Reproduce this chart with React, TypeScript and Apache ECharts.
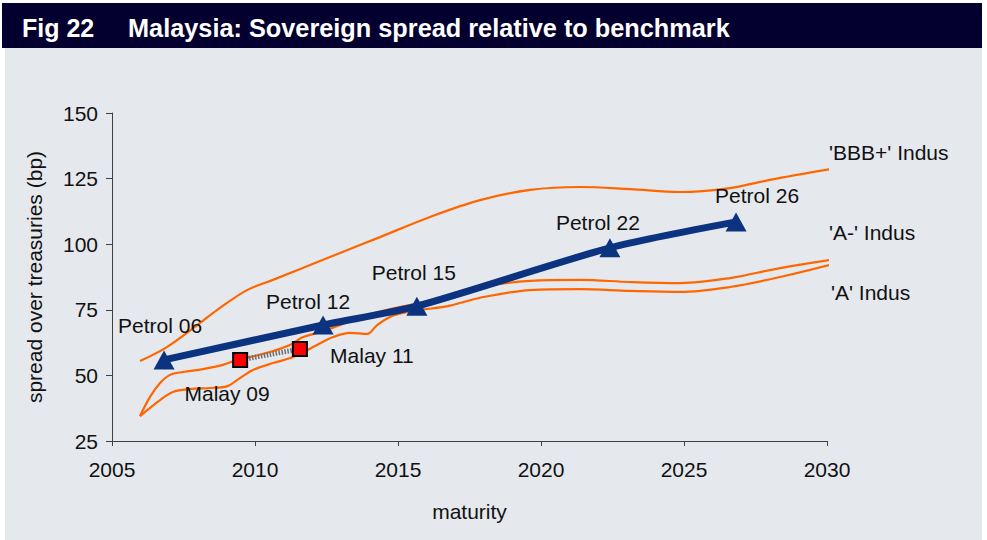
import React, { useEffect, useRef } from 'react';
import * as echarts from 'echarts';

// ---- data ----
const petrolNames = ['Petrol 06', 'Petrol 12', 'Petrol 15', 'Petrol 22', 'Petrol 26'];
const petrolPoints: [number, number][] = [
  [2006.82, 55.9],
  [2012.38, 69.2],
  [2015.66, 76.4],
  [2022.41, 98.6],
  [2026.82, 108.5],
];
const malayNames = ['Malay 09', 'Malay 11'];
const malayPoints: [number, number][] = [
  [2009.48, 55.9],
  [2011.57, 60.1],
];
const bbbPlusCurve: [number, number][] = [
  [2005.98, 55.5], [2006.92, 60.8], [2008.08, 70.0], [2008.67, 74.9], [2009.72, 82.5],
  [2010.63, 86.4], [2012.62, 95.1], [2014.37, 102.7], [2016.12, 110.4], [2017.87, 116.8],
  [2019.62, 120.7], [2021.36, 121.8], [2023.11, 121.0], [2024.86, 119.9], [2026.61, 121.4],
  [2028.0, 124.5], [2030.35, 129.0],
];
const aMinusCurve: [number, number][] = [
  [2005.98, 34.5], [2006.33, 41.8], [2006.68, 47.1], [2007.03, 50.2], [2007.48, 51.3],
  [2008.18, 52.4], [2008.88, 54.0], [2009.37, 55.9], [2009.83, 57.0], [2010.52, 58.9],
  [2011.22, 61.6], [2011.68, 64.6], [2012.17, 66.2], [2012.62, 67.8], [2013.68, 72.0],
  [2014.48, 74.6], [2016.22, 78.7], [2017.97, 83.7], [2019.62, 86.0], [2021.36, 86.4],
  [2023.11, 85.6], [2024.86, 85.2], [2026.61, 87.1], [2028.36, 90.9], [2030.35, 94.4],
];
const aCurve: [number, number][] = [
  [2005.98, 34.5], [2006.68, 40.6], [2007.13, 43.7], [2007.73, 44.8], [2008.43, 45.2],
  [2009.02, 45.8], [2009.37, 48.2], [2009.93, 52.1], [2010.63, 54.7], [2011.33, 57.0],
  [2012.17, 61.6], [2012.73, 64.6], [2013.32, 66.2], [2013.92, 65.8], [2014.27, 69.2],
  [2014.72, 72.3], [2015.17, 73.8], [2015.77, 74.9], [2016.82, 76.6], [2017.87, 79.6],
  [2019.62, 82.5], [2021.36, 82.9], [2023.11, 82.2], [2024.86, 81.8], [2026.61, 83.7],
  [2028.36, 87.5], [2030.35, 92.8],
];
const curveNames = ["'BBB+' Indus", "'A-' Indus", "'A' Indus"];

// ---- label placement (styles, not data) ----
const petrolLabelOffsets: [number, number][] = [[-4, -34], [-15, -24], [-3, -34], [-12, -25], [21, -26]];
const malayLabelOffsets: [number, number][] = [[-13, 34], [72, 7]];
const curveLabelOffsets: [number, number][] = [[0, -17], [0, -28], [2, 27]];

const FONT = "'Liberation Sans', Arial, sans-serif";
const TXT = '#111111';
const ORANGE = '#FF6600';
const NAVY = '#0B337F';

export default function App() {
  const ref = useRef<HTMLDivElement>(null);
  useEffect(() => {
    if (!ref.current) return;
    const chart = echarts.init(ref.current, undefined, { renderer: 'svg' });
    const curve = (name: string, data: [number, number][], i: number) => ({
      name,
      type: 'line',
      data,
      smooth: 0.35,
      clip: false,
      showSymbol: false,
      symbol: 'none',
      lineStyle: { color: ORANGE, width: 2.2 },
      z: 2,
      endLabel: {
        show: true,
        formatter: name,
        distance: 0,
        offset: curveLabelOffsets[i],
        color: TXT,
        fontSize: 21,
        fontFamily: FONT,
        align: 'left',
      },
    });
    chart.setOption({
      animation: false,
      backgroundColor: '#ffffff',
      textStyle: { fontFamily: FONT },
      graphic: [
        { type: 'rect', shape: { x: 5, y: 48, width: 977, height: 492 }, style: { fill: '#E5E8ED' }, z: -10 },
        { type: 'rect', shape: { x: 2, y: 3, width: 980, height: 45 }, style: { fill: '#03002F' }, z: -10 },
        {
          type: 'text', x: 22, y: 28,
          style: { text: 'Fig 22', fill: '#ffffff', font: `bold 25px ${FONT}`, verticalAlign: 'middle' },
        },
        {
          type: 'text', x: 128, y: 28,
          style: { text: 'Malaysia: Sovereign spread relative to benchmark', fill: '#ffffff', font: `bold 25.3px ${FONT}`, verticalAlign: 'middle' },
        },
      ],
      grid: { left: 112, right: 160, top: 113, bottom: 99, containLabel: false },
      xAxis: {
        type: 'value',
        min: 2005,
        max: 2030,
        interval: 5,
        name: 'maturity',
        nameLocation: 'middle',
        nameGap: 60,
        nameTextStyle: { color: TXT, fontSize: 21, fontFamily: FONT },
        axisLine: { show: true, lineStyle: { color: '#404040', width: 1 } },
        axisTick: { show: true, length: 5, lineStyle: { color: '#404040' } },
        axisLabel: { color: TXT, fontSize: 21, margin: 18, fontFamily: FONT, formatter: (v: number) => String(v) },
        splitLine: { show: false },
      },
      yAxis: {
        type: 'value',
        min: 25,
        max: 150,
        interval: 25,
        name: 'spread over treasuries (bp)',
        nameLocation: 'middle',
        nameGap: 67,
        nameTextStyle: { color: TXT, fontSize: 21, fontFamily: FONT },
        axisLine: { show: true, lineStyle: { color: '#404040', width: 1 } },
        axisTick: { show: true, length: 6, lineStyle: { color: '#404040' } },
        axisLabel: { color: TXT, fontSize: 21, margin: 14, fontFamily: FONT },
        splitLine: { show: false },
      },
      series: [
        curve(curveNames[0], bbbPlusCurve, 0),
        curve(curveNames[1], aMinusCurve, 1),
        curve(curveNames[2], aCurve, 2),
        {
          name: 'Malay',
          type: 'line',
          data: malayPoints.map((p, i) => ({
            value: p,
            name: malayNames[i],
            label: { offset: malayLabelOffsets[i] },
          })),
          symbol: 'rect',
          symbolSize: 14,
          itemStyle: { color: '#FF0000', borderColor: '#000000', borderWidth: 2 },
          lineStyle: { color: '#6e6e6e', width: 5, type: [1.5, 1.5] },
          label: {
            show: true,
            position: 'inside',
            formatter: (p: any) => p.name,
            color: TXT,
            fontSize: 21,
            fontFamily: FONT,
          },
          z: 4,
        },
        {
          name: 'Petrol',
          type: 'line',
          data: petrolPoints.map((p, i) => ({
            value: p,
            name: petrolNames[i],
            label: { offset: petrolLabelOffsets[i] },
          })),
          smooth: 0.25,
          symbol: 'triangle',
          symbolSize: [21, 19],
          itemStyle: { color: NAVY },
          lineStyle: { color: NAVY, width: 7 },
          label: {
            show: true,
            position: 'inside',
            formatter: (p: any) => p.name,
            color: TXT,
            fontSize: 21,
            fontFamily: FONT,
          },
          z: 5,
        },
      ],
    });
    return () => chart.dispose();
  }, []);
  return <div ref={ref} style={{ position: 'fixed', left: 0, top: 0, width: 987, height: 540 }} />;
}
